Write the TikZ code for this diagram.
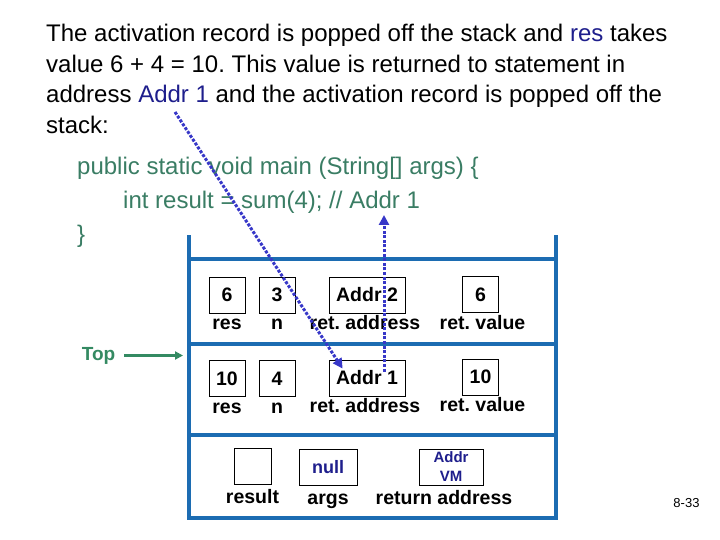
\documentclass[tikz,border=0pt]{standalone}
\usepackage{fontspec}
\setmainfont{Liberation Sans}
\usetikzlibrary{arrows.meta,positioning}

\definecolor{stackblue}{RGB}{28,108,178}
\definecolor{codegreen}{RGB}{58,125,100}
\definecolor{topgreen}{RGB}{52,138,98}
\definecolor{navy}{RGB}{30,30,140}
\definecolor{linkblue}{RGB}{55,55,200}

\frenchspacing

\begin{document}
\begin{tikzpicture}[
		x=1pt, y=-1pt,
		cell/.style={draw, line width=0.8pt, minimum width=36pt, minimum height=36pt, inner sep=0pt,
			font=\fontsize{19.5}{19.5}\selectfont\bfseries},
		lbl/.style={inner sep=0pt, text height=14pt, text depth=4pt,
			font=\fontsize{19.5}{19.5}\selectfont\bfseries},
		wall/.style={stackblue, line width=4pt},
		toparrow/.style={topgreen, line width=3pt, -{Triangle[width=8pt,length=8pt]}},
		link/.style={linkblue, line width=3pt, dash pattern=on 3pt off 1.6pt,
			-{Triangle[width=10pt,length=10pt]}}
	]
	\useasboundingbox (0,0) rectangle (720,540);

	% text above the stack (base is the last line)
	\node[anchor=base west, align=left, inner sep=0pt, font=\fontsize{24}{30.5}\selectfont] (intro) at (46,133.5)
		{The activation record is popped off the stack and {\color{navy}res} takes \\
		 value 6 + 4 = 10. This value is returned to statement in \\
		 address {\color{navy}Addr 1} and the activation record is popped off the \\
		 stack:};
	\node[anchor=base west, align=left, inner sep=0pt, text=codegreen, font=\fontsize{24}{34}\selectfont] (code) at (77,243)
		{public static void main (String[] args) \{ \\
		 \hspace*{46pt}int result = sum(4); // Addr 1 \\
		 \}};

	% the stack
	\draw[wall] (189,235) -- (189,518) -- (556,518) -- (556,235);
	\draw[wall] (189,259) -- (556,259) (189,344) -- (556,344) (189,435) -- (556,435);

	% frame of sum(3)
	\node[cell] (res1) at (227,295) {6};
	\node[cell] (n1) at (277,295) {3};
	\node[cell, minimum width=76pt] (addr2) at (367,295) {Addr 2};
	\node[cell] (val1) at (480.5,294.5) {6};
	\node[lbl, below=2pt of res1] {res};
	\node[lbl, below=2pt of n1] {n};
	\node[lbl, below=2pt of addr2, xshift=-2pt] {ret. address};
	\node[lbl, below=2pt of val1, xshift=2pt] {ret. value};

	% frame of sum(4)
	\node[cell] (res2) at (227,378.5) {10};
	\node[cell] (n2) at (277,378.5) {4};
	\node[cell, minimum width=76pt] (addr1) at (367,378) {Addr 1};
	\node[cell] (val2) at (480.5,377) {10};
	\node[lbl, below=2pt of res2] {res};
	\node[lbl, below=2pt of n2] {n};
	\node[lbl, below=2pt of addr1, xshift=-2pt] {ret. address};
	\node[lbl, below=2pt of val2, xshift=2pt] {ret. value};

	% frame of main
	\node[cell, minimum width=37pt] (result) at (252.5,466) {};
	\node[cell, minimum width=58pt, text=navy, font=\fontsize{18}{18}\selectfont\bfseries] (args) at (328,467) {null};
	\node[cell, minimum width=64pt, text=navy, align=center, font=\fontsize{15}{19}\selectfont\bfseries] (retaddr) at (451,467) {Addr \\ VM};
	\node[lbl, below=5pt of result] {result};
	\node[lbl, below=5pt of args] {args};
	\node[lbl, below=5pt of retaddr, xshift=-7pt] {return address};

	% top of stack
	\node[inner sep=0pt, text=topgreen, font=\fontsize{19}{19}\selectfont\bfseries] (top) at (98.5,355.5) {Top};
	\coordinate (topend) at (183,355.5);
	\draw[toparrow] ([xshift=9pt]top.east) -- (topend);

	% return links
	\coordinate (addrword) at (175,112);
	\coordinate (codeaddr) at (384,215);
	\draw[link] (addrword) -- ([xshift=14pt,yshift=-9pt]addr1.north west);
	\draw[link] ([xshift=17pt,yshift=-12pt]addr1.north) -- (codeaddr);

	% page number
	\node[inner sep=0pt, font=\fontsize{13}{13}\selectfont] (page) at (686.5,503.5) {8-33};
\end{tikzpicture}
\end{document}
